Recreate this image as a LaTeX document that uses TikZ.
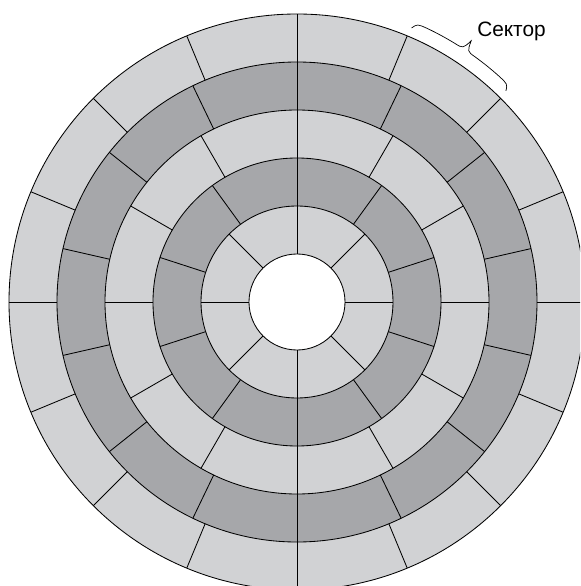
\documentclass[tikz,border=0pt]{standalone}
\usepackage{fontspec}
\setmainfont{Liberation Sans}
\usetikzlibrary{positioning}
\definecolor{tracklight}{RGB}{209,210,212}
\definecolor{trackdark}{RGB}{166,167,170}

\begin{document}
\begin{tikzpicture}[
  x=0.025cm, y=0.025cm,
  edge/.style={draw=black, line width=0.6pt},
  lbl/.style={inner sep=0pt, anchor=base west, font=\fontsize{14.8}{17}\selectfont},
]
\clip (-297,-284) rectangle (283,302);
\fill[white] (-297,-284) rectangle (283,302);

% tracks, from the outside in
\fill[tracklight] (0,0) circle[radius=288];
\fill[trackdark]  (0,0) circle[radius=240];
\fill[tracklight] (0,0) circle[radius=192];
\fill[trackdark]  (0,0) circle[radius=144];
\fill[tracklight] (0,0) circle[radius=96];
\fill[white]      (0,0) circle[radius=48];

\foreach \r in {48,96,144,192,240,288}
  \draw[edge] (0,0) circle[radius=\r];

% sector borders: 8, 10, 12, 14, 16 per track
\foreach \k in {1,...,5}{
  \pgfmathsetmacro{\n}{6+2*\k}
  \pgfmathsetmacro{\rin}{48*\k}
  \pgfmathsetmacro{\rout}{48*(\k+1)}
  \pgfmathtruncatemacro{\last}{\n-1}
  \foreach \j in {0,...,\last}{
    \pgfmathsetmacro{\a}{90+360/\n*\j}
    \draw[edge] (\a:\rin) -- (\a:\rout);
  }
}

\node[lbl] (sektor) at (180,265) {Сектор};

% brace over one sector of the outer track
\draw[edge, line width=0.5pt]
  (67.3:297) .. controls (66.6:303) .. (64.5:303)
  arc[start angle=64.5, end angle=58.6, radius=303]
  .. controls (56.8:303) .. (56.3:314)
  .. controls (55.8:303) .. (54:303)
  arc[start angle=54, end angle=48.1, radius=303]
  .. controls (46:303) .. (45.3:297);
\end{tikzpicture}
\end{document}
